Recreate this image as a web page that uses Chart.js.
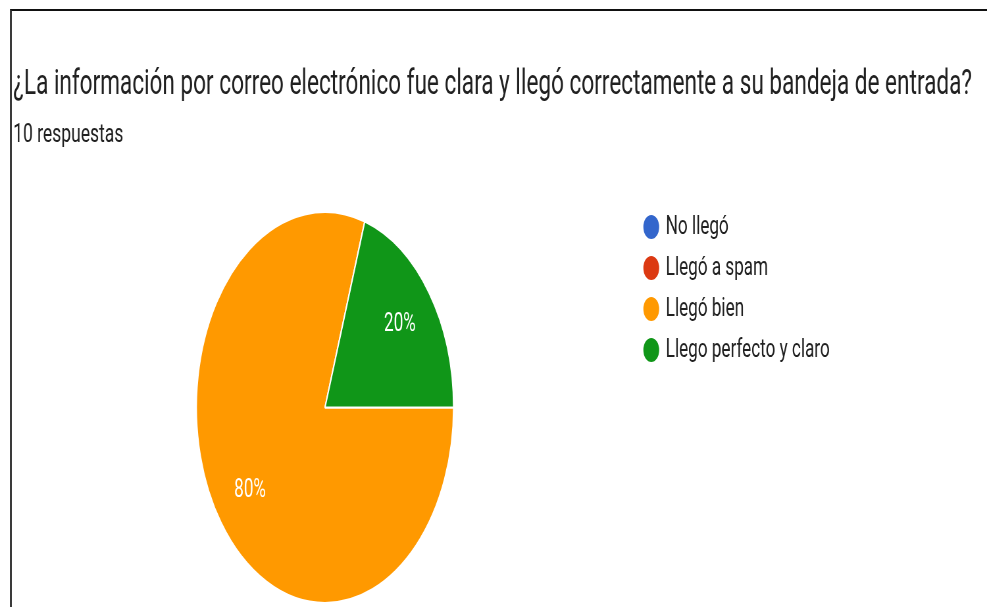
<!DOCTYPE html>
<html>
<head>
<meta charset="utf-8">
<script src="https://cdn.jsdelivr.net/npm/chart.js@4"></script>
<style>
  html, body { margin: 0; padding: 0; background: #fff; overflow: hidden; }
  body { width: 987px; height: 607px; position: relative; }
  #frame {
    position: absolute; left: 10px; top: 9px; right: 0; bottom: -4px;
    border-top: 2px solid #111; border-left: 2px solid #3a3a3a;
  }
  #stage {
    position: absolute; left: 0; top: 0; width: 1500px; height: 620px;
    transform: scaleX(0.658); transform-origin: 0 0;
  }
</style>
</head>
<body>
<div id="frame"></div>
<div id="stage"><canvas id="myChart" width="1500" height="620"></canvas></div>
<script>
const question = '¿La información por correo electrónico fue clara y llegó correctamente a su bandeja de entrada?';
const answered = '10 respuestas';
const categories = ['No llegó', 'Llegó a spam', 'Llegó bien', 'Llego perfecto y claro'];
const responses = [0, 0, 8, 2];
const sliceColors = ['#3366cc', '#dc3912', '#ff9900', '#109618'];

// question + response count across the top; drawn here so the long
// question is not squeezed to the title box width
const header = {
    id: 'header',
    afterDraw(chart) {
        const ctx = chart.ctx;
        ctx.save();
        ctx.fillStyle = '#212121';
        ctx.textAlign = 'left';
        ctx.textBaseline = 'alphabetic';
        ctx.font = '34.3px Roboto';
        ctx.fillText(question, 20, 93.5);
        ctx.font = '26.6px Roboto';
        ctx.fillText(answered, 20, 142);
        ctx.restore();
    }
};

// percentage text inside each non-empty slice
const sliceLabels = {
    id: 'sliceLabels',
    afterDatasetsDraw(chart) {
        const ctx = chart.ctx;
        const meta = chart.getDatasetMeta(0);
        const values = chart.data.datasets[0].data;
        const total = values.reduce((a, b) => a + b, 0);
        ctx.save();
        ctx.font = '26px Roboto';
        ctx.fillStyle = '#ffffff';
        ctx.textAlign = 'center';
        ctx.textBaseline = 'middle';
        meta.data.forEach((arc, i) => {
            if (!values[i]) return;
            const p = arc.getProps(['x', 'y', 'startAngle', 'endAngle', 'outerRadius'], true);
            const mid = (p.startAngle + p.endAngle) / 2;
            const r = p.outerRadius * 0.72;
            ctx.fillText(Math.round(values[i] / total * 100) + '%', p.x + Math.cos(mid) * r, p.y + Math.sin(mid) * r);
        });
        ctx.restore();
    }
};

const ctx = document.getElementById('myChart').getContext('2d');
new Chart(ctx, {
    type: 'pie',
    data: {
        labels: categories,
        datasets: [{
            data: responses,
            backgroundColor: sliceColors,
            borderColor: '#ffffff',
            borderWidth: 2
        }]
    },
    options: {
        responsive: false,
        animation: false,
        rotation: 90,
        radius: 195.5,
        layout: {
            padding: { top: 199, left: 22, right: 229, bottom: 4 }
        },
        plugins: {
            title: { display: false },
            legend: {
                position: 'right',
                align: 'start',
                labels: {
                    usePointStyle: true,
                    pointStyle: 'circle',
                    boxWidth: 18,
                    boxHeight: 18.4,
                    padding: 15,
                    color: '#212121',
                    font: { family: 'Roboto', size: 26 }
                }
            },
            tooltip: { enabled: false }
        }
    },
    plugins: [sliceLabels, header]
});
</script>
</body>
</html>
